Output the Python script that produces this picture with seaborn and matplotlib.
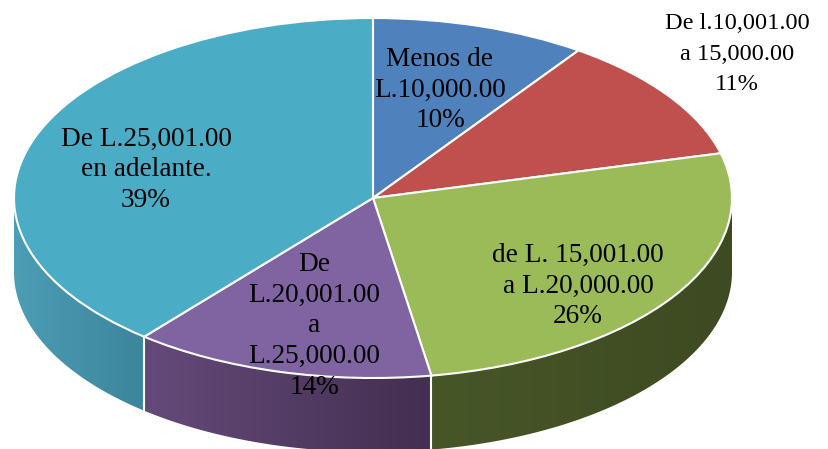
import numpy as np
import matplotlib
matplotlib.use("Agg")
import matplotlib.pyplot as plt
import seaborn as sns

categories = [
    "Menos de\nL.10,000.00",
    "De l.10,001.00\na 15,000.00",
    "de L. 15,001.00\na L.20,000.00",
    "De\nL.20,001.00\na\nL.25,000.00",
    "De L.25,001.00\nen adelante.",
]
values = [9.7, 11.3, 26.4, 13.6, 39.0]
colors = ["#4F81BD", "#C0504D", "#9BBB59", "#8064A2", "#4BACC6"]
wall_left = ["#3A5F8C", "#8E3B39", "#475627", "#644A79", "#4C9DB5"]
wall_right = ["#3A5F8C", "#8E3B39", "#3E4A22", "#432F51", "#3C859B"]
# label centres in pixels of the 829x449 image
label_x = [440, 737, 578, 314, 146]
label_y = [90, 54, 286, 326, 170]
label_size = [19.6, 17.6, 19.6, 19.6, 19.6]
label_spacing = [1.3, 1.58, 1.3, 1.3, 1.3]

# pie ellipse in pixels
cx, cy, rx, ry = 373, 198, 359, 180
depth = 74 / ry

sns.set_theme(style="white")
plt.rcParams["font.family"] = ["Liberation Serif", "DejaVu Serif"]

fig, ax = plt.subplots(figsize=(8.29, 4.49), dpi=100)
fig.subplots_adjust(left=0, right=1, bottom=0, top=1)

wedges, _ = ax.pie(values, colors=colors, startangle=90, counterclock=False, radius=1,
                   wedgeprops={"edgecolor": "white", "linewidth": 1.5, "zorder": 3})

# side wall, only the front half of the disc shows
edges = np.cumsum([0] + values) / sum(values) * 2 * np.pi
for i in range(len(values)):
    t0 = max(edges[i], np.pi / 2)
    t1 = min(edges[i + 1], 3 * np.pi / 2)
    if t1 <= t0:
        continue
    ts = np.linspace(t0, t1, 120)
    xs = np.sin(ts)
    ys = np.cos(ts)
    outline = ax.fill(np.r_[xs, xs[::-1]], np.r_[ys, ys[::-1] - depth], facecolor="none",
                      edgecolor="none", zorder=1)[0]
    # gradient runs from the left side of the slice to the right side
    shades = sns.blend_palette([wall_left[i], wall_right[i]], n_colors=64)
    im = ax.imshow([shades], extent=[xs.min(), xs.max(), (ys - depth).min(), ys.max()],
                   aspect="auto", interpolation="bilinear", zorder=1)
    im.set_clip_path(outline)
    # white separators between the slices
    if edges[i] >= np.pi / 2:
        ax.plot([xs[0], xs[0]], [ys[0], ys[0] - depth], color="white", lw=1.5, zorder=2)

ax.set_aspect("auto")
ax.set_xlim(-cx / rx, (829 - cx) / rx)
ax.set_ylim((cy - 449) / ry, cy / ry)

for i in range(len(values)):
    ax.text((label_x[i] - cx) / rx, (cy - label_y[i]) / ry,
            f"{categories[i]}\n{values[i]:.0f}%", ha="center", va="center",
            fontsize=label_size[i], color="black", linespacing=label_spacing[i], zorder=5)

fig.savefig("out.png", dpi=100)
